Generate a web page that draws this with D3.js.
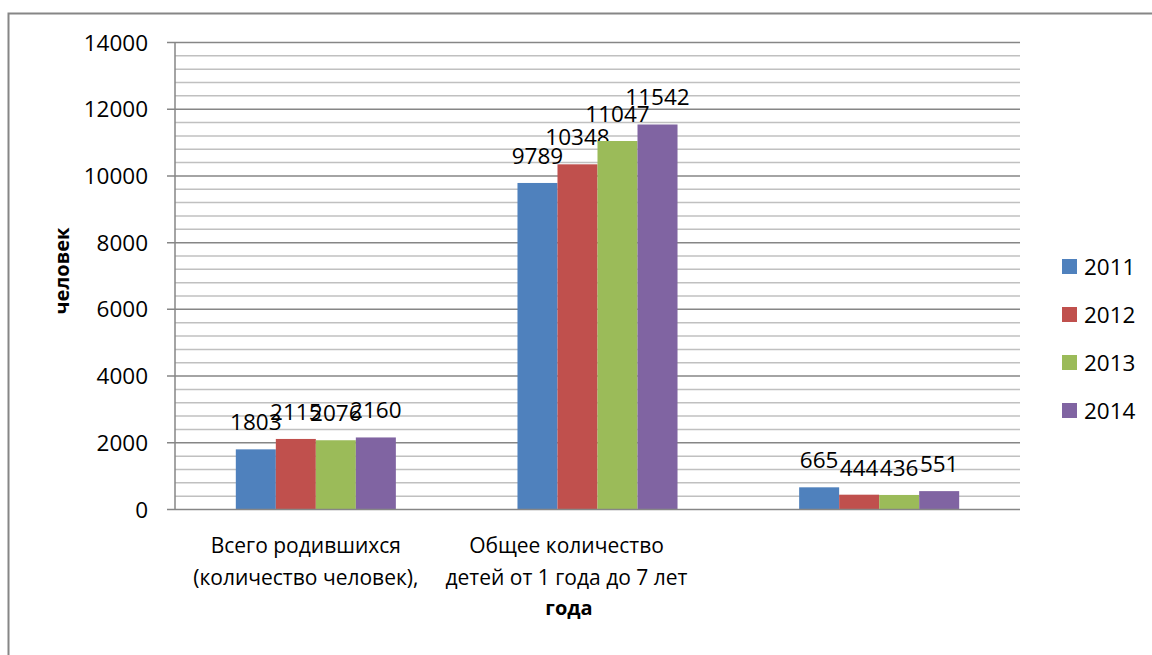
<!DOCTYPE html>
<html>
<head>
<meta charset="utf-8">
<script src="https://cdn.jsdelivr.net/npm/d3@7"></script>
<style>
  body { margin: 0; background: #fff; }
  text { font-family: "Open Sans", sans-serif; fill: #000; }
</style>
</head>
<body>
<svg width="1152" height="655"></svg>
<script>
var categories = [
  ["Всего родившихся", "(количество человек),"],
  ["Общее количество", "детей от 1 года до 7 лет"],
  [""]
];
var years = ["2011", "2012", "2013", "2014"];
var v2011 = [1803, 9789, 665];
var v2012 = [2115, 10348, 444];
var v2013 = [2076, 11047, 436];
var v2014 = [2160, 11542, 551];
var yTicks = [0, 2000, 4000, 6000, 8000, 10000, 12000, 14000];

var colors = ["#4f81bd", "#c0504d", "#9bbb59", "#8064a2"];
var series = [v2011, v2012, v2013, v2014];
// excel centred the wrapped labels a bit left of the band centre
var labelShift = [-10, -31, 0];

var svg = d3.select("svg"),
    fs = 21,      // words
    fsNum = 22.5; // numbers (calibri digits run wider)

// chart border (cut off on the right and bottom)
svg.append("rect")
    .attr("x", 8.5).attr("y", 13.5)
    .attr("width", 1200).attr("height", 700)
    .attr("fill", "none")
    .attr("stroke", "#868686")
    .attr("stroke-width", 2);

var plotLeft = 175, plotRight = 1020, plotTop = 42.5, plotBottom = 509.5;

var y = d3.scaleLinear().domain([0, 14000]).range([plotBottom, plotTop]);
var x0 = d3.scaleBand().domain(d3.range(categories.length)).range([plotLeft, plotRight]);
var x1 = d3.scaleBand().domain(d3.range(years.length))
    .range([0, x0.bandwidth()]).paddingOuter(1.52);

// minor gridlines every 400
svg.append("g").selectAll("line")
    .data(d3.range(400, 14000, 400).filter(function(d) { return d % 2000 != 0; }))
  .enter().append("line")
    .attr("x1", plotLeft).attr("x2", plotRight)
    .attr("y1", function(d) { return y(d); })
    .attr("y2", function(d) { return y(d); })
    .attr("stroke", "#c0c0c0")
    .attr("stroke-width", 1.5);

// major gridlines
svg.append("g").selectAll("line")
    .data(yTicks.slice(1))
  .enter().append("line")
    .attr("x1", plotLeft - 8).attr("x2", plotRight)
    .attr("y1", function(d) { return y(d); })
    .attr("y2", function(d) { return y(d); })
    .attr("stroke", "#868686")
    .attr("stroke-width", 1.5);

// bars
var groups = svg.append("g").selectAll("g")
    .data(years)
  .enter().append("g");

groups.each(function(yr, i) {
  d3.select(this).selectAll("rect")
    .data(series[i])
  .enter().append("rect")
    .attr("x", function(d, j) { return x0(j) + x1(i); })
    .attr("y", function(d) { return y(d); })
    .attr("width", x1.bandwidth())
    .attr("height", function(d) { return plotBottom - y(d); })
    .attr("fill", colors[i]);
});

// data labels
groups.each(function(yr, i) {
  d3.select(this).selectAll("text")
    .data(series[i])
  .enter().append("text")
    .attr("x", function(d, j) { return x0(j) + x1(i) + x1.bandwidth() / 2; })
    .attr("y", function(d) { return y(d) - 19; })
    .attr("text-anchor", "middle")
    .attr("font-size", fsNum)
    .text(function(d) { return d; });
});

// axes lines
svg.append("line")
    .attr("x1", plotLeft).attr("x2", plotLeft)
    .attr("y1", plotTop).attr("y2", plotBottom)
    .attr("stroke", "#868686").attr("stroke-width", 1.5);
svg.append("line")
    .attr("x1", plotLeft - 8).attr("x2", plotRight)
    .attr("y1", plotBottom).attr("y2", plotBottom)
    .attr("stroke", "#868686").attr("stroke-width", 1.5);

// y tick labels
svg.append("g").selectAll("text")
    .data(yTicks)
  .enter().append("text")
    .attr("x", 148)
    .attr("y", function(d) { return y(d); })
    .attr("dy", "0.36em")
    .attr("text-anchor", "end")
    .attr("font-size", fsNum)
    .text(function(d) { return d; });

// category labels
svg.append("g").selectAll("text")
    .data(categories)
  .enter().append("text")
    .attr("text-anchor", "middle")
    .attr("font-size", fs)
    .each(function(lines, j) {
      var t = d3.select(this);
      lines.forEach(function(l, k) {
        t.append("tspan")
          .attr("x", x0(j) + x0.bandwidth() / 2 + labelShift[j])
          .attr("y", 553 + k * 32)
          .text(l);
      });
    });

// axis titles
svg.append("text")
    .attr("x", 569).attr("y", 615)
    .attr("text-anchor", "middle")
    .attr("font-size", 20)
    .attr("font-weight", "bold")
    .text("года");

svg.append("text")
    .attr("transform", "translate(69,271) rotate(-90)")
    .attr("text-anchor", "middle")
    .attr("font-size", 20)
    .attr("font-weight", "bold")
    .text("человек");

// legend
var legend = svg.append("g").selectAll("g")
    .data(years)
  .enter().append("g")
    .attr("transform", function(d, i) { return "translate(1062," + (259 + i * 48) + ")"; });

legend.append("rect")
    .attr("width", 15).attr("height", 15)
    .attr("fill", function(d, i) { return colors[i]; });

legend.append("text")
    .attr("x", 22).attr("y", 7.5)
    .attr("dy", "0.36em")
    .attr("font-size", fsNum)
    .text(function(d) { return d; });
</script>
</body>
</html>
